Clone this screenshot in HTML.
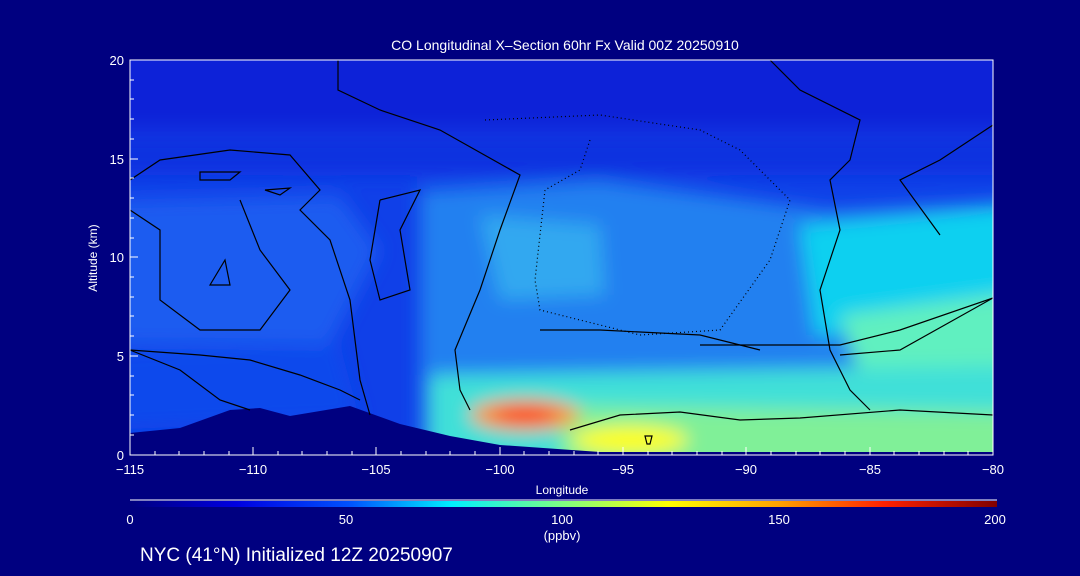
<!DOCTYPE html><html><head><style>html,body{margin:0;padding:0;background:#000080;width:1080px;height:576px;overflow:hidden;font-family:"Liberation Sans",sans-serif}svg{display:block}</style></head><body>
<svg width="1080" height="576" xmlns="http://www.w3.org/2000/svg" font-family="Liberation Sans, sans-serif">
<defs>
<clipPath id="c"><rect x="130" y="60" width="863" height="395"/></clipPath>
<filter id="b" x="-20%" y="-20%" width="140%" height="140%"><feGaussianBlur stdDeviation="9"/></filter>
<linearGradient id="cb" x1="0" x2="1"><stop offset="0" stop-color="#000080"/><stop offset="0.12" stop-color="#0000e0"/><stop offset="0.25" stop-color="#0050ff"/><stop offset="0.37" stop-color="#00f0ff"/><stop offset="0.5" stop-color="#80ff80"/><stop offset="0.62" stop-color="#ffff00"/><stop offset="0.75" stop-color="#ffa000"/><stop offset="0.87" stop-color="#ff2000"/><stop offset="1" stop-color="#800000"/></linearGradient>
</defs>
<text x="565" y="50" fill="#fff" font-size="14" text-anchor="middle">CO Longitudinal X–Section 60hr  Fx Valid 00Z 20250910</text>
<g clip-path="url(#c)">
<rect x="130" y="60" width="863" height="395" fill="#1040e8"/>
<g filter="url(#b)">
<rect x="100" y="30" width="930" height="100" fill="#0820d8"/>
<path d="M100 135 L1030 135 L1030 175 L100 175Z" fill="#0a30e0"/>
<path d="M100 200 L340 195 L380 250 L330 345 L100 345Z" fill="#1a5cf0"/>
<path d="M420 190 L600 180 L830 210 L1030 200 L1030 480 L420 480Z" fill="#2080f0"/>
<path d="M480 215 L600 225 L605 295 L500 300Z" fill="#30a8f0"/>
<path d="M800 225 L1030 205 L1030 335 L815 335Z" fill="#08d0f0"/>
<path d="M840 315 L1030 290 L1030 385 L860 375Z" fill="#60f0c0"/>
<path d="M430 375 L1030 365 L1030 480 L430 480Z" fill="#40e0d8"/>
<path d="M560 405 L1030 412 L1030 480 L560 480Z" fill="#80f098"/>
<path d="M100 350 L340 345 L360 420 L100 430Z" fill="#0a48ec"/>
<ellipse cx="630" cy="440" rx="58" ry="14" fill="#ffff10"/>
<ellipse cx="525" cy="415" rx="55" ry="15" fill="#ff9000"/>
<ellipse cx="525" cy="415" rx="32" ry="8" fill="#ff2000"/>
</g>
<path d="M130 433 L180 428 L230 410 L260 408 L290 416 L350 406 L400 424 L450 436 L500 445 L600 452 L993 452 L993 455 L130 455Z" fill="#000080"/>
<g fill="none" stroke="#000" stroke-width="1.2">
<path d="M338 60 L338 90 L380 110 L440 130 L520 175 L500 230 L480 290 L455 350 L460 390 L470 410"/>
<path d="M770 60 L800 90 L860 120 L850 160 L830 180 L840 230 L820 290 L830 350 L850 390 L870 410"/>
<path d="M130 180 L160 160 L230 150 L290 155 L320 190 L300 210 L330 240 L350 300 L360 380 L370 415"/>
<path d="M130 350 L180 370 L220 400 L250 410"/>
<path d="M130 210 L160 230 L160 300 L200 330 L260 330 L290 290 L260 250 L240 200"/>
<path d="M380 200 L420 190 L400 230 L410 290 L380 300 L370 260 L380 200"/>
<path d="M130 350 L200 355 L250 360 L300 375 L340 390 L360 400"/>
<path d="M570 430 L620 415 L680 412 L740 420 L800 418 L900 410 L993 415"/>
<path d="M840 355 L900 350 L993 298"/>
<path d="M993 125 L940 160 L900 180 L940 235"/>
<path d="M210 285 L225 260 L230 285Z"/>
<path d="M200 172 L240 172 L230 180 L200 180Z"/>
<path d="M265 190 L290 188 L280 195Z"/>
<path d="M645 436 L652 436 L650 444 L647 444Z"/>
<path d="M700 345 L760 345 L840 345 L900 330 L993 298"/>
<path d="M540 330 L600 330 L700 335 L760 350"/>
</g>
<path d="M485 120 L600 115 L700 130 L740 150 L790 200 L770 260 L720 330 L640 335 L540 310 L535 280 L545 190 L580 170 L590 140" fill="none" stroke="#000" stroke-width="1.2" stroke-dasharray="1,3"/>
</g>
<rect x="130" y="60" width="863" height="395" fill="none" stroke="#fff" stroke-width="1"/>
<g stroke="#fff" stroke-width="1">
<path d="M130 455 v-8 M253 455 v-8 M376 455 v-8 M500 455 v-8 M623 455 v-8 M746 455 v-8 M870 455 v-8 M993 455 v-8"/>
<path d="M155 455v-4M179 455v-4M204 455v-4M229 455v-4M278 455v-4M302 455v-4M327 455v-4M352 455v-4M401 455v-4M426 455v-4M450 455v-4M475 455v-4M524 455v-4M549 455v-4M574 455v-4M598 455v-4M648 455v-4M672 455v-4M697 455v-4M722 455v-4M771 455v-4M796 455v-4M820 455v-4M845 455v-4M894 455v-4M919 455v-4M944 455v-4M968 455v-4"/>
<path d="M130 356h8M130 257h8M130 159h8M130 435h4M130 415h4M130 395h4M130 376h4M130 336h4M130 316h4M130 297h4M130 277h4M130 238h4M130 218h4M130 198h4M130 178h4M130 139h4M130 119h4M130 99h4M130 80h4"/>
<path d="M130 500 H997"/>
</g>
<rect x="132" y="501" width="865" height="6" fill="url(#cb)"/>
<g fill="#fff" font-size="13" text-anchor="middle">
<text x="130" y="474">−115</text><text x="253" y="474">−110</text><text x="376" y="474">−105</text><text x="500" y="474">−100</text><text x="623" y="474">−95</text><text x="746" y="474">−90</text><text x="870" y="474">−85</text><text x="993" y="474">−80</text>
<text x="562" y="494" font-size="12">Longitude</text>
<text x="130" y="524">0</text><text x="346" y="524">50</text><text x="562" y="524">100</text><text x="779" y="524">150</text><text x="995" y="524">200</text>
<text x="562" y="540">(ppbv)</text>
</g>
<g fill="#fff" font-size="13" text-anchor="end">
<text x="124" y="460">0</text><text x="124" y="361">5</text><text x="124" y="262">10</text><text x="124" y="164">15</text><text x="124" y="65">20</text>
</g>
<text x="97" y="258" fill="#fff" font-size="12" text-anchor="middle" transform="rotate(-90 97 258)">Altitude (km)</text>
<text x="140" y="561" fill="#fff" font-size="19">NYC (41°N) Initialized 12Z 20250907</text>
</svg>
</body></html>
